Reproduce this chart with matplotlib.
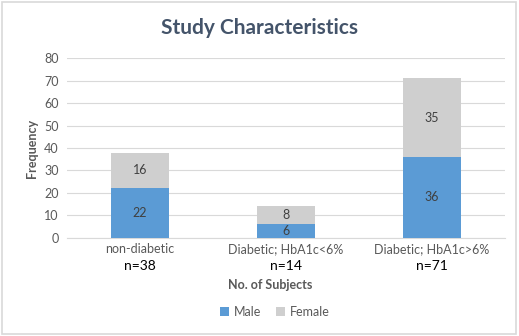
import matplotlib.pyplot as plt
from matplotlib.patches import Rectangle
import numpy as np

categories = ['non-diabetic', 'Diabetic; HbA1c<6%', 'Diabetic; HbA1c>6%']
totals = ['n=38', 'n=14', 'n=71']
male = [22, 6, 36]
female = [16, 8, 35]

plt.rcParams['font.family'] = ['Lato', 'DejaVu Sans']

fig = plt.figure(figsize=(5.19, 3.36), dpi=100)
ax = fig.add_axes([0.129, 0.292, 0.844, 0.535])

x = np.arange(len(categories))
w = 0.4
b1 = ax.bar(x, male, w, color='#5B9BD5', label='Male', zorder=3)
b2 = ax.bar(x, female, w, bottom=male, color='#CFCFCF', label='Female', zorder=3)

for bars, vals, base in [(b1, male, [0, 0, 0]), (b2, female, male)]:
    for r, v, b in zip(bars, vals, base):
        ax.text(r.get_x() + r.get_width() / 2, b + v / 2, str(v),
                ha='center', va='center', fontsize=9, color='#404040')

ax.set_xlim(-0.5, 2.5)
ax.set_ylim(0, 80)
ax.set_yticks(range(0, 81, 10))
ax.yaxis.grid(True, color='#D9D9D9', linewidth=0.8, zorder=0)
for s in ['top', 'right', 'left']:
    ax.spines[s].set_visible(False)
ax.spines['bottom'].set_color('#D9D9D9')
ax.tick_params(length=0, labelsize=9, colors='#595959', pad=6)
ax.set_xticks(x)
ax.set_xticklabels(categories)
ax.tick_params(axis='x', pad=4)

for xi, t in zip(x, totals):
    ax.annotate(t, xy=(xi, 0), xycoords=('data', 'axes fraction'),
                xytext=(0, -28), textcoords='offset pixels',
                ha='center', va='center', fontsize=10, color='#000000')

ax.set_ylabel('Frequency', fontsize=9, fontweight='bold', color='#595959', labelpad=4)
fig.text(0.5 + 0.02, 1 - 285 / 336, 'No. of Subjects', ha='center', va='center',
         fontsize=9, fontweight='bold', color='#595959')
fig.suptitle('Study Characteristics', x=0.5, y=0.945, fontsize=15, fontweight='bold', color='#44546A')

fig.legend(handles=[b1, b2], loc='center', bbox_to_anchor=(0.53, 1 - 312 / 336), ncol=2,
           frameon=False, fontsize=9, labelcolor='#595959', handlelength=0.7,
           handleheight=0.7, handletextpad=0.4, columnspacing=1.2)

fig.patches.append(Rectangle((0.004, 0.006), 0.99, 0.988, transform=fig.transFigure,
                             fill=False, edgecolor='#D9D9D9', linewidth=1.2))

fig.savefig('out.png', dpi=100)
